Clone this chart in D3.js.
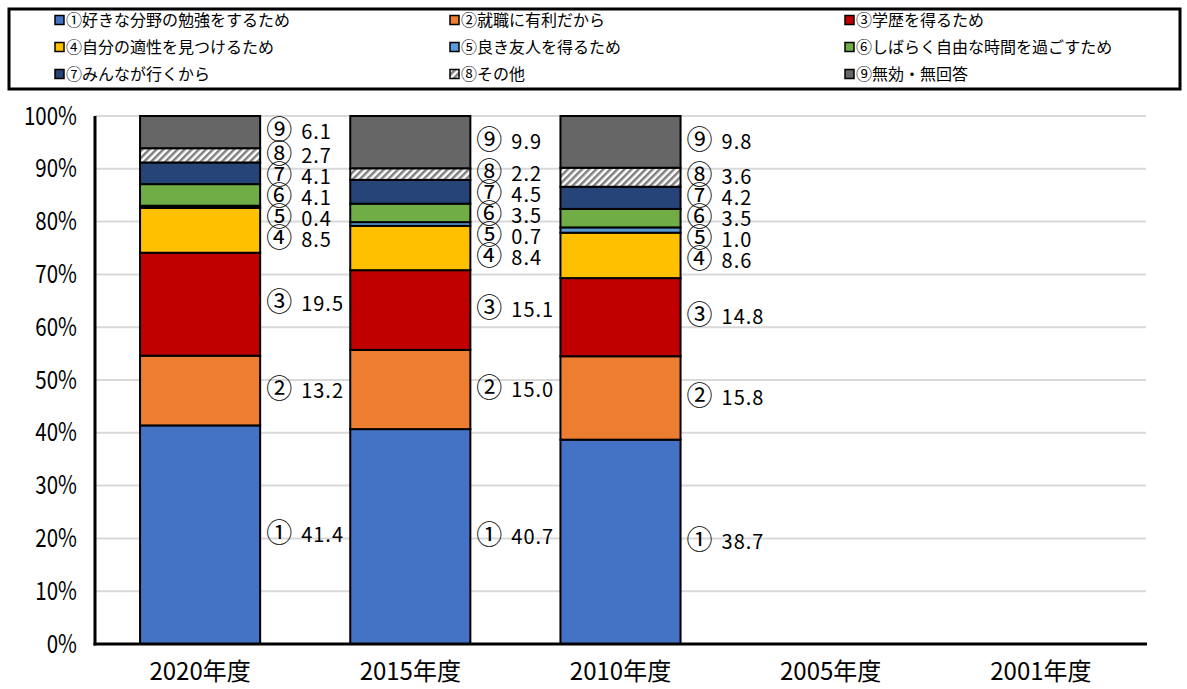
<!DOCTYPE html>
<html>
<head>
<meta charset="utf-8">
<script src="https://cdn.jsdelivr.net/npm/d3@7"></script>
<style>
  html, body { margin: 0; padding: 0; background: #fff; }
  svg { display: block; font-family: "Noto Sans CJK JP", "Noto Sans", sans-serif; }
</style>
</head>
<body>
<svg id="chart" width="1187" height="689"></svg>
<script>
// ---- data ----
const years = ["2020年度", "2015年度", "2010年度", "2005年度", "2001年度"];
const reasons = [
  "①好きな分野の勉強をするため",
  "②就職に有利だから",
  "③学歴を得るため",
  "④自分の適性を見つけるため",
  "⑤良き友人を得るため",
  "⑥しばらく自由な時間を過ごすため",
  "⑦みんなが行くから",
  "⑧その他",
  "⑨無効・無回答"
];
const r1 = [41.4, 40.7, 38.7, null, null];
const r2 = [13.2, 15.0, 15.8, null, null];
const r3 = [19.5, 15.1, 14.8, null, null];
const r4 = [8.5, 8.4, 8.6, null, null];
const r5 = [0.4, 0.7, 1.0, null, null];
const r6 = [4.1, 3.5, 3.5, null, null];
const r7 = [4.1, 4.5, 4.2, null, null];
const r8 = [2.7, 2.2, 3.6, null, null];
const r9 = [6.1, 9.9, 9.8, null, null];
const yTicks = [0, 10, 20, 30, 40, 50, 60, 70, 80, 90, 100];

const seriesValues = [r1, r2, r3, r4, r5, r6, r7, r8, r9];
const colors = ["#4472C4", "#ED7D31", "#C00000", "#FFC000", "#5B9BD5", "#70AD47", "#264478", "url(#hatch)", "#666666"];

// ---- layout ----
const svg = d3.select("#chart");
const plot = { left: 95, right: 1146, top: 116, bottom: 644 };

const defs = svg.append("defs");
const pat = defs.append("pattern")
  .attr("id", "hatch")
  .attr("patternUnits", "userSpaceOnUse")
  .attr("width", 5).attr("height", 5)
  .attr("patternTransform", "rotate(45)");
pat.append("rect").attr("width", 5).attr("height", 5).attr("fill", "#ffffff");
pat.append("rect").attr("width", 2.5).attr("height", 5).attr("fill", "#7f7f7f");

const x = d3.scaleBand()
  .domain(years)
  .range([plot.left, plot.right])
  .paddingInner(0.4286)
  .paddingOuter(0.2143);

const y = d3.scaleLinear().domain([0, 100]).range([plot.bottom, plot.top]);

// gridlines
svg.append("g")
  .selectAll("line")
  .data(yTicks.filter(d => d > 0))
  .join("line")
  .attr("x1", plot.left).attr("x2", plot.right)
  .attr("y1", d => y(d)).attr("y2", d => y(d))
  .attr("stroke", "#d9d9d9").attr("stroke-width", 2);

// y axis labels
const yAxis = svg.append("g")
  .attr("transform", `translate(${plot.left},0)`)
  .call(d3.axisLeft(y).tickValues(yTicks).tickFormat(d => d + "%").tickSize(0).tickPadding(22));
yAxis.select(".domain").remove();
yAxis.selectAll("text")
  .attr("font-size", 25)
  .attr("font-family", "'Noto Sans CJK JP', sans-serif")
  .attr("fill", "#000")
  .attr("transform", "scale(0.82,1)");

// stacked data
const table = years.map((yr, i) => {
  const row = { year: yr, has: seriesValues.some(s => s[i] != null) };
  seriesValues.forEach((s, k) => { row["k" + k] = s[i] == null ? 0 : s[i]; });
  return row;
});
const keys = seriesValues.map((s, k) => "k" + k);
const stacked = d3.stack().keys(keys)(table);

const gBars = svg.append("g");
stacked.forEach((layer, k) => {
  gBars.selectAll(null)
    .data(layer.filter(d => d.data.has))
    .join("rect")
    .attr("x", d => x(d.data.year))
    .attr("width", x.bandwidth())
    .attr("y", d => y(d[1]))
    .attr("height", d => y(d[0]) - y(d[1]))
    .attr("fill", colors[k])
    .attr("stroke", "#000")
    .attr("stroke-width", 2);
});

// data labels (placed beside bars, spread to avoid overlap)
const gLabels = svg.append("g");
years.forEach((yr, i) => {
  if (!table[i].has) return;
  const items = [];
  for (let k = seriesValues.length - 1; k >= 0; k--) {
    const seg = stacked[k][i];
    items.push({ k, v: seriesValues[k][i], pos: y((seg[0] + seg[1]) / 2) });
  }
  const gap = 21;
  for (let j = 1; j < items.length; j++) {
    if (items[j].pos < items[j - 1].pos + gap) items[j].pos = items[j - 1].pos + gap;
  }
  const lx = x(yr) + x.bandwidth() + 6;
  items.forEach(it => {
    const t = gLabels.append("text")
      .attr("x", lx).attr("y", it.pos)
      .attr("dy", "0.36em")
      .attr("font-size", 20)
      .attr("fill", "#000");
    t.append("tspan").attr("font-size", 26).text(reasons[it.k][0]);
    t.append("tspan").attr("dx", 9).attr("letter-spacing", 1).text(it.v.toFixed(1));
  });
});

// axis lines
svg.append("line")
  .attr("x1", plot.left).attr("x2", plot.left)
  .attr("y1", plot.top).attr("y2", plot.bottom + 1.5)
  .attr("stroke", "#000").attr("stroke-width", 3);
svg.append("line")
  .attr("x1", plot.left - 1.5).attr("x2", plot.right + 1)
  .attr("y1", plot.bottom).attr("y2", plot.bottom)
  .attr("stroke", "#000").attr("stroke-width", 3);

// x labels
svg.append("g")
  .selectAll("text")
  .data(years)
  .join("text")
  .attr("x", d => x(d) + x.bandwidth() / 2)
  .attr("y", 680)
  .attr("text-anchor", "middle")
  .attr("font-size", 24)
  .attr("fill", "#000")
  .text(d => d);

// legend
svg.append("rect")
  .attr("x", 9).attr("y", 9).attr("width", 1171).attr("height", 80)
  .attr("fill", "none").attr("stroke", "#000").attr("stroke-width", 3);
const legCols = [55, 450, 845];
const legRows = [20, 47, 74];
const gLeg = svg.append("g");
reasons.forEach((name, k) => {
  const cx = legCols[k % 3], cy = legRows[Math.floor(k / 3)];
  gLeg.append("rect")
    .attr("x", cx).attr("y", cy - 4.5).attr("width", 9).attr("height", 9)
    .attr("fill", colors[k]).attr("stroke", "#000").attr("stroke-width", 1.5);
  gLeg.append("text")
    .attr("x", cx + 11).attr("y", cy).attr("dy", "0.36em")
    .attr("font-size", 16).attr("fill", "#000")
    .text(name);
});
</script>
</body>
</html>
